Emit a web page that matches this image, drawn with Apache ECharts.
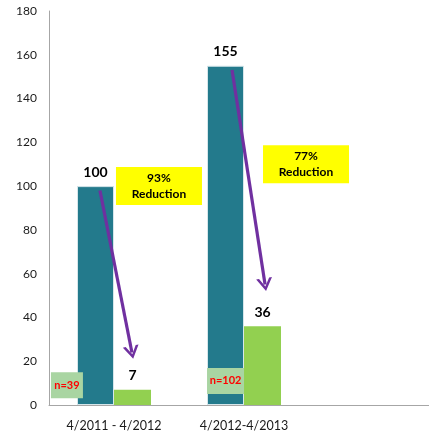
<!DOCTYPE html>
<html>
<head>
<meta charset="utf-8">
<script src="https://cdn.jsdelivr.net/npm/echarts@6/dist/echarts.min.js"></script>
<style>
  html, body { margin: 0; padding: 0; background: #fff; }
  #chart { width: 429px; height: 438px; }
</style>
</head>
<body>
<div id="chart"></div>
<script>
// periods on the x axis (third slot is empty space in the original)
const categories = ['4/2011 - 4/2012', '4/2012-4/2013', ''];
const beforeValues = [100, 155, null];
const afterValues = [7, 36, null];

// annotation text
const reductionLabels = ['93%\nReduction', '77%\nReduction'];
const reductionPos = [[0.346, 100], [1.477, 110]];
const sampleLabels = ['n=39', 'n=102'];
const samplePos = [[-0.362, 9], [0.858, 11]];
const arrows = [
  [[-0.108, 98], [0.138, 24]],
  [[0.908, 153], [1.162, 55]],
];

const font = 'Lato, "Open Sans", sans-serif';
const chart = echarts.init(document.getElementById('chart'));

// open "V" arrow head, tip pointing up (markLine rotates it)
const chevron = 'path://M0,10 L5,0 L10,10 L8.2,10 L5,3.6 L1.8,10 Z';

const option = {
  animation: false,
  grid: { left: 49, right: -10, top: 11, bottom: 33, containLabel: false, outerBoundsMode: 'none' },
  xAxis: [
    {
      type: 'category',
      data: categories,
      axisLine: { lineStyle: { color: '#a6a6a6' } },
      axisTick: { show: false },
      axisLabel: { color: '#1a1a1a', fontSize: 12.5, fontFamily: font, margin: 14 },
    },
    { type: 'value', min: -0.5, max: 2.5, show: false },
  ],
  yAxis: {
    type: 'value',
    min: 0,
    max: 180,
    interval: 20,
    axisLine: { show: true, onZero: false, lineStyle: { color: '#a6a6a6' } },
    axisTick: { show: false },
    splitLine: { show: false },
    axisLabel: { color: '#1a1a1a', fontSize: 12, fontFamily: font, margin: 12 },
  },
  series: [
    {
      type: 'bar',
      data: beforeValues,
      barWidth: 37,
      barGap: '0%',
      itemStyle: { color: '#237a8c', borderColor: '#d6e6ea', borderWidth: 1 },
      label: { show: true, position: 'top', distance: 7, color: '#000', fontWeight: 'bold', fontSize: 14, fontFamily: font },
    },
    {
      type: 'bar',
      data: afterValues,
      barWidth: 37,
      itemStyle: { color: '#92d050' },
      label: { show: true, position: 'top', distance: 7, color: '#000', fontWeight: 'bold', fontSize: 14, fontFamily: font },
    },
    {
      type: 'scatter',
      xAxisIndex: 1,
      z: 5,
      symbol: 'rect',
      symbolSize: [86, 38],
      itemStyle: { color: '#ffff00', opacity: 1 },
      data: reductionPos.map((p, i) => ({ value: p, label: { formatter: reductionLabels[i] } })),
      label: { show: true, position: 'inside', color: '#000', fontWeight: 'bold', fontSize: 12, lineHeight: 16, fontFamily: font },
      silent: true,
    },
    {
      type: 'scatter',
      xAxisIndex: 1,
      z: 5,
      symbol: 'rect',
      data: samplePos.map((p, i) => ({
        value: p,
        symbolSize: [i === 0 ? 32 : 37, 26],
        label: { formatter: sampleLabels[i] },
      })),
      itemStyle: { color: '#a9d5a2', opacity: 1 },
      label: { show: true, position: 'inside', color: '#ff0000', fontWeight: 'bold', fontSize: 11, fontFamily: font },
      silent: true,
      markLine: {
        silent: true,
        symbol: ['none', chevron],
        symbolSize: [16, 13],
        label: { show: false },
        lineStyle: { color: '#7030a0', width: 3.2, type: 'solid' },
        itemStyle: { color: '#7030a0' },
        data: arrows.map((a) => [{ coord: a[0] }, { coord: a[1] }]),
      },
    },
  ],
};

chart.setOption(option);
</script>
</body>
</html>
